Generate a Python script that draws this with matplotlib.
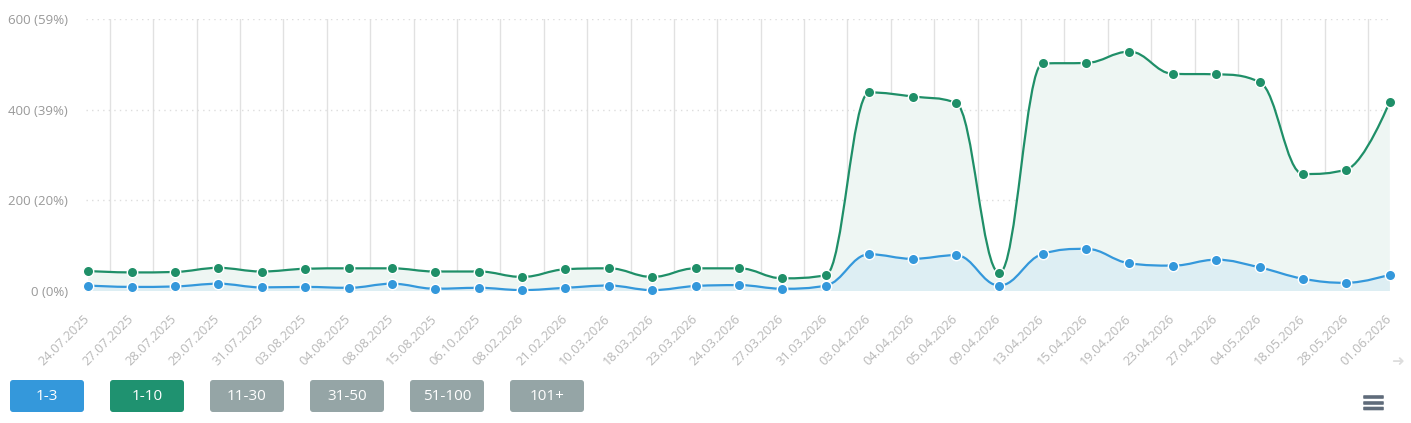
import matplotlib.pyplot as plt
import matplotlib
import matplotlib.transforms as mtransforms
from matplotlib.path import Path
from matplotlib.patches import PathPatch, FancyBboxPatch

matplotlib.rcParams['font.family'] = ['Open Sans', 'DejaVu Sans']

# данные
dates = ['24.07.2025', '27.07.2025', '28.07.2025', '29.07.2025', '31.07.2025', '03.08.2025',
         '04.08.2025', '08.08.2025', '15.08.2025', '06.10.2025', '08.02.2026', '21.02.2026',
         '10.03.2026', '18.03.2026', '23.03.2026', '24.03.2026', '27.03.2026', '31.03.2026',
         '03.04.2026', '04.04.2026', '05.04.2026', '09.04.2026', '13.04.2026', '15.04.2026',
         '19.04.2026', '23.04.2026', '27.04.2026', '04.05.2026', '18.05.2026', '28.05.2026',
         '01.06.2026']
top10 = [44, 41, 42, 51, 43, 49, 50, 50, 43, 43, 31, 48, 50, 31, 50, 50, 28, 35,
         438, 429, 415, 40, 502, 503, 528, 479, 478, 461, 258, 268, 418]
top3 = [12, 9, 10, 16, 8, 9, 7, 16, 5, 7, 2, 7, 12, 2, 11, 13, 5, 12,
        81, 71, 79, 12, 82, 93, 61, 56, 69, 52, 27, 18, 36]
ytick_vals = [0, 200, 400, 600]
ytick_labels = ['0 (0%)', '200 (20%)', '400 (39%)', '600 (59%)']
buttons = ['1-3', '1-10', '11-30', '31-50', '51-100', '101+']
button_colors = ['#3498db', '#1f9270', '#95a5a6', '#95a5a6', '#95a5a6', '#95a5a6']

GREEN = '#1f8f68'
BLUE = '#3498db'


def spline_path(xs, ys):
    # сглаживание как в highcharts (spline)
    sm = 1.5
    den = sm + 1
    n = len(xs)
    right = [None] * n
    verts = [(xs[0], ys[0])]
    codes = [Path.MOVETO]
    for i in range(1, n):
        px, py = xs[i], ys[i]
        lx, ly = xs[i - 1], ys[i - 1]
        lcx, lcy = px, py
        if i < n - 1:
            nx, ny = xs[i + 1], ys[i + 1]
            lcx = (sm * px + lx) / den
            lcy = (sm * py + ly) / den
            rcx = (sm * px + nx) / den
            rcy = (sm * py + ny) / den
            corr = 0
            if rcx != lcx:
                corr = (rcy - lcy) * (rcx - px) / (rcx - lcx) + py - rcy
            lcy += corr
            rcy += corr
            if lcy > ly and lcy > py:
                lcy = max(ly, py)
                rcy = 2 * py - lcy
            elif lcy < ly and lcy < py:
                lcy = min(ly, py)
                rcy = 2 * py - lcy
            if rcy > ny and rcy > py:
                rcy = max(ny, py)
                lcy = 2 * py - rcy
            elif rcy < ny and rcy < py:
                rcy = min(ny, py)
                lcy = 2 * py - rcy
            right[i] = (rcx, rcy)
        prev_ctrl = right[i - 1] if right[i - 1] is not None else (lx, ly)
        verts += [prev_ctrl, (lcx, lcy), (px, py)]
        codes += [Path.CURVE4] * 3
    return verts, codes


fig = plt.figure(figsize=(14.11, 4.23), dpi=100)
W, H = 1411, 423
ax = fig.add_axes([86 / W, (H - 291) / H, (1392 - 86) / W, 272 / H])

x = list(range(len(dates)))

for vals, line_c, fill_c, z in [(top10, GREEN, '#eef6f3', 2), (top3, BLUE, '#ddeef3', 3)]:
    v, c = spline_path(x, vals)
    ax.add_patch(PathPatch(Path(v, c), facecolor='none', edgecolor=line_c, lw=1.6, zorder=z + 2))
    fv = v + [(x[-1], 0), (x[0], 0), (x[0], vals[0])]
    fc = c + [Path.LINETO, Path.LINETO, Path.CLOSEPOLY]
    ax.add_patch(PathPatch(Path(fv, fc), facecolor=fill_c, edgecolor='none', zorder=z))
    ax.plot(x, vals, 'o', ms=7.5, mfc=line_c, mec='white', mew=1.0, zorder=z + 5, clip_on=False)

# сетка
for i in range(len(dates) - 1):
    ax.axvline(i + 0.5, color='#e1e1e1', lw=1, zorder=1)
for yv in ytick_vals[1:]:
    ax.axhline(yv, color='#dddddd', lw=1, ls=(0, (1, 3)), zorder=1)

ax.set_xlim(-0.05, len(dates) - 1 + 0.05)
ax.set_ylim(0, 600)
for s in ax.spines.values():
    s.set_visible(False)

ax.set_yticks(ytick_vals)
ax.set_yticklabels(ytick_labels, color='#999999', fontsize=9.5)
ax.tick_params(axis='y', length=0, pad=13)
ax.set_xticks(x)
ax.set_xticklabels(dates, rotation=45, ha='right', va='top', rotation_mode='anchor',
                   color='#b8b8b8', fontsize=9.3)
ax.tick_params(axis='x', length=0, pad=15)
shift = mtransforms.ScaledTranslation(-5 / 100, 0, fig.dpi_scale_trans)
for lbl in ax.get_xticklabels():
    lbl.set_transform(lbl.get_transform() + shift)

# кнопки и иконки снизу
ov = fig.add_axes([0, 0, 1, 1], zorder=-1)
ov.set_xlim(0, W)
ov.set_ylim(H, 0)
ov.axis('off')
for k, (lab, col) in enumerate(zip(buttons, button_colors)):
    x0 = 10 + k * 100
    ov.add_patch(FancyBboxPatch((x0 + 3, 380 + 3), 74 - 6, 32 - 6,
                                boxstyle='round,pad=3', facecolor=col, edgecolor='none'))
    ov.text(x0 + 37, 396.5, lab, color='white', fontsize=11, ha='center', va='center')
for yy in [397, 403, 408.5]:
    ov.add_patch(FancyBboxPatch((1364, yy - 1), 19, 2, boxstyle='round,pad=0.8',
                                facecolor='#5f6b7a', edgecolor='none'))
ov.text(1398, 362, '➜', color='#dddddd', fontsize=11, ha='center', va='center',
        family=['DejaVu Sans'])

plt.savefig('out.png', dpi=100)
